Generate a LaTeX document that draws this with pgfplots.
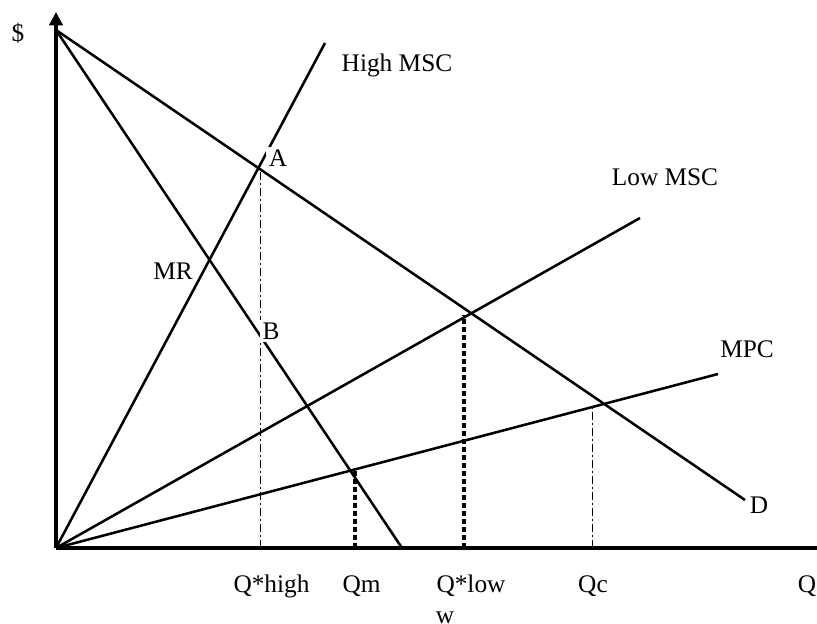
\documentclass[border=0pt]{standalone}
\usepackage{fontspec}
\setmainfont{Liberation Serif}
\usepackage{pgfplots}
\pgfplotsset{compat=1.18}
\usetikzlibrary{arrows.meta}
\begin{document}
\begin{tikzpicture}
\useasboundingbox (-42pt,-57pt) rectangle (570.75pt,411pt);
\begin{axis}[
    x=0.75pt, y=0.75pt,
    anchor=origin, at={(0,0)},
    xmin=0, xmax=761,
    ymin=0, ymax=536,
    axis lines=left,
    x axis line style={-, line width=2.3pt},
    y axis line style={-{Triangle[width=10pt,length=10pt]}, line width=2.3pt},
    xtick=\empty, ytick=\empty,
    clip=false,
    font=\fontsize{19}{22.5}\selectfont,
    every node/.style={font=\fontsize{19}{22.5}\selectfont},
]
% curves
\addplot[black, line width=1.9pt] coordinates {(0,518) (689,48)};   % D
\addplot[black, line width=1.9pt] coordinates {(0,518) (346,0)};    % MR
\addplot[black, line width=1.9pt] coordinates {(0,0) (269,505)};    % High MSC
\addplot[black, line width=1.9pt] coordinates {(0,0) (584,330)};    % Low MSC
\addplot[black, line width=1.9pt] coordinates {(0,0) (662,174)};    % MPC
% drop lines
\addplot[black, line width=0.7pt, dash pattern=on 6pt off 2.5pt on 1pt off 2.5pt] coordinates {(204,0) (204,378)};
\addplot[black, line width=2.8pt, dash pattern=on 3.5pt off 2.5pt] coordinates {(299,0) (299,78)};
\addplot[black, line width=2.8pt, dash pattern=on 3.5pt off 2.5pt] coordinates {(408,0) (408,233)};
\addplot[black, line width=0.7pt, dash pattern=on 6pt off 2.5pt on 1pt off 2.5pt] coordinates {(536,0) (536,142)};
% labels
\node at (axis cs:-38,515) {\$};
\node at (axis cs:341,483) {High MSC};
\node[fill=white, inner sep=2pt] at (axis cs:222,390) {A};
\node at (axis cs:609,371) {Low MSC};
\node[fill=white, inner sep=2pt] at (axis cs:117,277) {MR};
\node[fill=white, inner sep=2pt] at (axis cs:215,217) {B};
\node at (axis cs:691,199) {MPC};
\node at (axis cs:703,43) {D};
\node[anchor=base] at (axis cs:215.5,-45) {Q*high};
\node[anchor=base] at (axis cs:305.5,-45) {Qm};
\node[anchor=base] at (axis cs:415,-45) {Q*low};
\node[anchor=base] at (axis cs:389,-75) {w};
\node[anchor=base] at (axis cs:537,-45) {Qc};
\node[anchor=base] at (axis cs:751,-45) {Q};
\end{axis}
\end{tikzpicture}
\end{document}
